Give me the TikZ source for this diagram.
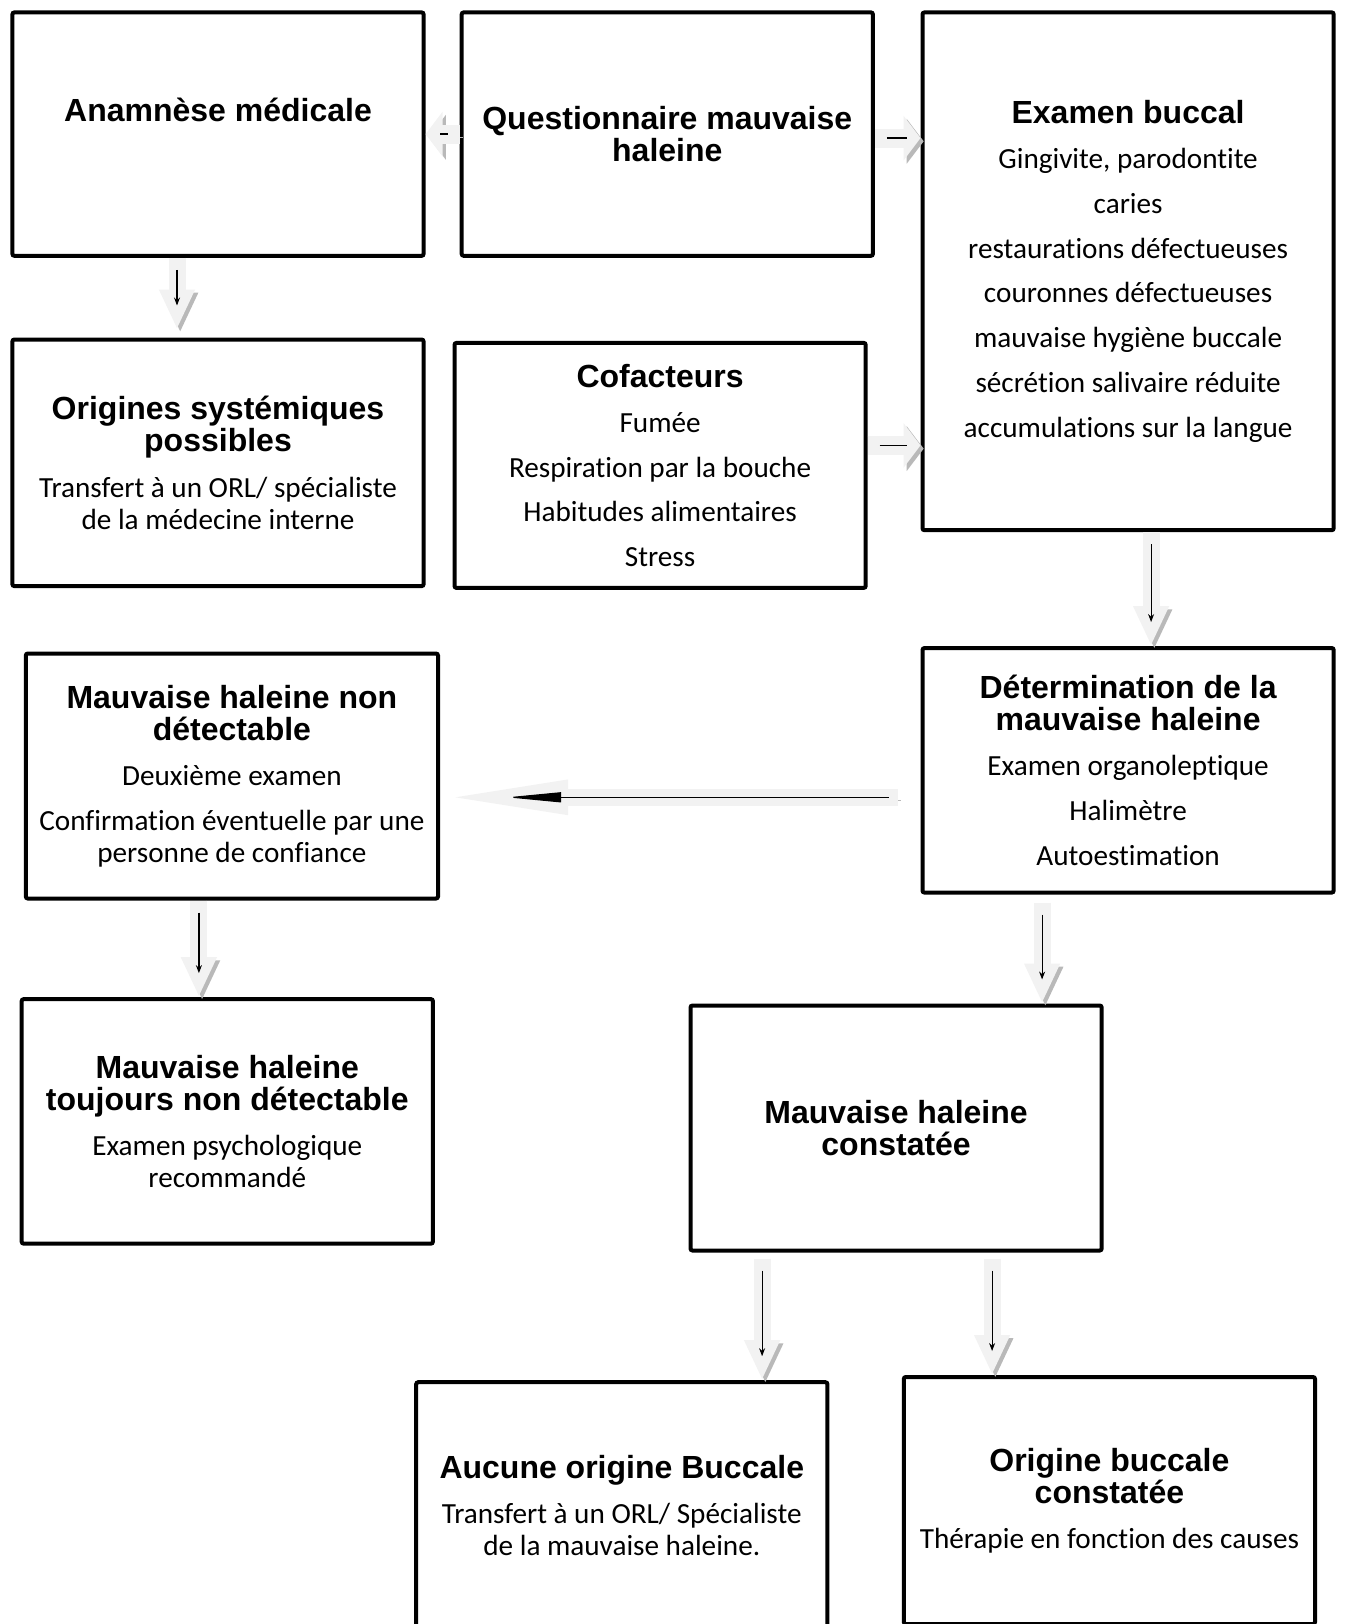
\documentclass[tikz,border=0pt]{standalone}
\usepackage{fontspec}
\setmainfont{Carlito}[Ligatures={TeX,NoCommon}]
\newfontfamily\headfont{Liberation Sans}
\usetikzlibrary{arrows.meta, positioning, calc}

\newcommand{\bodyfont}{\fontsize{14.6}{16}\selectfont}
\newcommand{\titre}[1]{{\headfont\bfseries\fontsize{16}{16.6}\selectfont #1}}

\begin{document}
\begin{tikzpicture}[
  box/.style={rectangle, draw, line width=2pt, rounded corners=1pt, fill=white, minimum width=205.6pt, minimum height=122.5pt, align=center, font=\bodyfont, inner sep=2pt},
  arrowshadow/.style={preaction={draw=gray!55, transform canvas={shift={(1.6pt,-1.6pt)}}}},
  sidearrow/.style={arrowshadow, draw=gray!10, line width=9.5pt, -{Triangle[length=8.5pt,width=22pt]}, postaction={draw=black, line width=0.7pt, -, shorten <=6pt, shorten >=7pt}},
  downarrow/.style={arrowshadow, draw=gray!10, line width=8.5pt, -{Triangle[length=20pt,width=16.5pt]}, postaction={draw=black, line width=0.6pt, -{Stealth[length=4pt,width=3pt]}, shorten <=6pt, shorten >=12pt}},
  longarrow/.style={arrowshadow, draw=gray!10, line width=8.5pt, -{Triangle[length=68pt,width=15pt]}, postaction={draw=black, line width=0.6pt, -{Triangle[length=27pt,width=5pt]}, shorten <=4.5pt, shorten >=37.5pt}}
]
\useasboundingbox (0,0) rectangle (673pt,-812pt);

% Top row
\node[box, minimum height=121.7pt] (anam) at (109pt,-67.05pt) {\titre{Anamnèse médicale}\\[8pt]\mbox{}};
\node[box, minimum height=121.7pt, right of=anam, node distance=224.65pt] (quest) {\titre{Questionnaire mauvaise}\\\titre{haleine}};
\node[box, minimum height=258.9pt, right of=quest, node distance=230.4pt, yshift=-68.6pt] (exam) {\titre{Examen buccal}\\[6.6pt]Gingivite, parodontite\\[6.4pt]caries\\[6.4pt]restaurations défectueuses\\[6.4pt]couronnes défectueuses\\[6.4pt]mauvaise hygiène buccale\\[6.4pt]sécrétion salivaire réduite\\[6.4pt]accumulations sur la langue};

% Second row
\node[box, minimum height=123.3pt, below of=anam, node distance=164.35pt] (orig) {\titre{Origines systémiques}\\\titre{possibles}\\[6.6pt]Transfert à un ORL/ spécialiste\\de la médecine interne};
\node[box, right of=orig, node distance=221.05pt, yshift=-1.3pt] (cofact) {\titre{Cofacteurs}\\[6.6pt]Fumée\\[6.4pt]Respiration par la bouche\\[6.4pt]Habitudes alimentaires\\[6.4pt]Stress};

% Determination
\node[box, minimum height=122.25pt, below of=exam, node distance=249.5pt] (determ) {\titre{Détermination de la}\\\titre{mauvaise haleine}\\[6.6pt]Examen organoleptique\\[6.4pt]Halimètre\\[6.4pt]Autoestimation};
\node[box, minimum width=206.1pt, left of=determ, node distance=448.1pt, yshift=-2.85pt] (nondet) {\titre{Mauvaise haleine non}\\\titre{détectable}\\[6.6pt]Deuxième examen\\[6.4pt]Confirmation éventuelle par une\\personne de confiance};
\node[box, minimum height=122.25pt, below of=nondet, node distance=172.7pt, xshift=-2.3pt] (toujours) {\titre{Mauvaise haleine}\\\titre{toujours non détectable}\\[6.6pt]Examen psychologique\\recommandé};
\node[box, below of=determ, node distance=178.85pt, xshift=-116pt] (constat) {\titre{Mauvaise haleine}\\\titre{constatée}};

% Bottom row
\node[box, minimum height=123.5pt, below of=constat, node distance=188.85pt, xshift=-137.15pt] (aucune) {\titre{Aucune origine Buccale}\\[6.6pt]Transfert à un ORL/ Spécialiste\\de la mauvaise haleine.};
\node[box, minimum height=123.5pt, below of=constat, node distance=186.25pt, xshift=106.65pt] (origbuc) {\titre{Origine buccale}\\\titre{constatée}\\[6.6pt]Thérapie en fonction des causes};

% Arrows
\draw[sidearrow] (quest.west) -- (anam.east);
\draw[sidearrow] ([yshift=-2pt]quest.east) -- ([yshift=-2pt]quest.east -| exam.west);
\draw[sidearrow] ([yshift=10pt]cofact.east) -- ([yshift=10pt]cofact.east -| exam.west);
\draw[downarrow] ([xshift=-20.5pt]anam.south) -- ([xshift=-20.5pt,yshift=4pt]anam.south |- orig.north);
\draw[downarrow] ([xshift=11.5pt]exam.south) -- ([xshift=11.5pt]exam.south |- determ.north);
\draw[longarrow] ([xshift=-11.5pt,yshift=-13.5pt]determ.west) -- ([xshift=-4pt,yshift=-13.5pt]determ.west -| nondet.east);
\draw[downarrow] ([xshift=-16.5pt]nondet.south) -- ([xshift=-16.5pt]nondet.south |- toujours.north);
\draw[downarrow] ([xshift=-43pt,yshift=-4pt]determ.south) -- ([xshift=-43pt]determ.south |- constat.north);
\draw[downarrow] ([xshift=-67pt,yshift=-3pt]constat.south) -- ([xshift=-67pt]constat.south |- aucune.north);
\draw[downarrow] ([xshift=48pt,yshift=-3pt]constat.south) -- ([xshift=48pt]constat.south |- origbuc.north);

\end{tikzpicture}
\end{document}
